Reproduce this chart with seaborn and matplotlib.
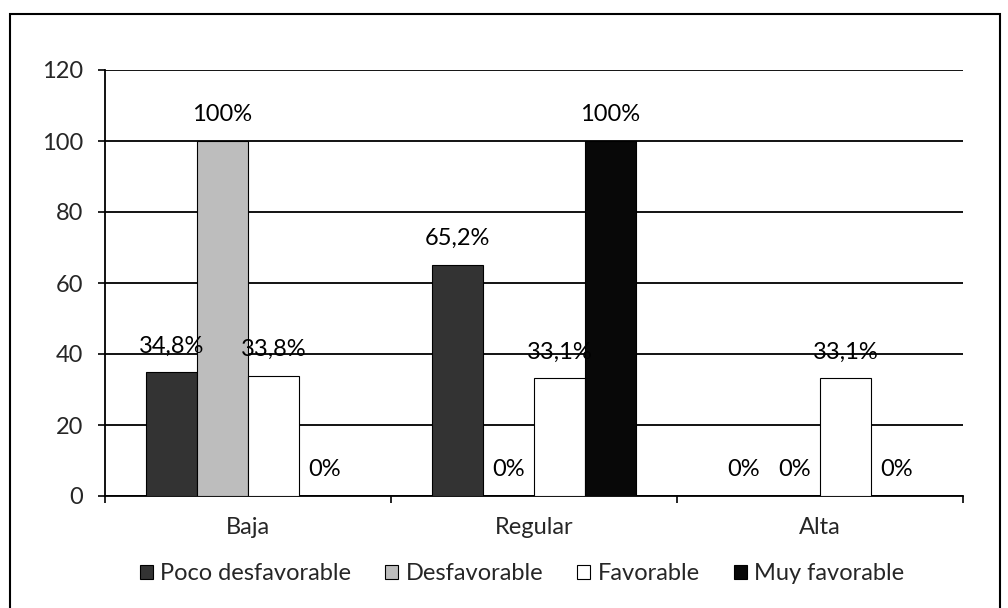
import matplotlib
matplotlib.use("Agg")
import matplotlib.pyplot as plt
import seaborn as sns
import pandas as pd
from matplotlib.patches import Rectangle

categories = ["Baja", "Regular", "Alta"]
series = ["Poco desfavorable", "Desfavorable", "Favorable", "Muy favorable"]
poco_desfavorable = [34.8, 65.2, 0]
desfavorable = [100, 0, 0]
favorable = [33.8, 33.1, 33.1]
muy_favorable = [0, 100, 0]
y_ticks = [0, 20, 40, 60, 80, 100, 120]

values = [poco_desfavorable, desfavorable, favorable, muy_favorable]
rows = []
for s, vals in zip(series, values):
    for c, v in zip(categories, vals):
        rows.append({"Nivel": c, "Serie": s, "Valor": v})
df = pd.DataFrame(rows)

sns.set_style("white")
plt.rcParams["font.family"] = ["Lato", "DejaVu Sans"]
FS = 17

face = {"Poco desfavorable": "#333333", "Desfavorable": "#bdbdbd",
        "Favorable": "#ffffff", "Muy favorable": "#080808"}

fig = plt.figure(figsize=(10.08, 6.08), dpi=100)
ax = fig.add_axes([105/1008, 1-496/608, (963-105)/1008, (496-70)/608])

sns.barplot(data=df, x="Nivel", y="Valor", hue="Serie", order=categories,
            hue_order=series, palette=face, width=0.713, gap=0,
            edgecolor="black", linewidth=0.8, ax=ax, legend=True, zorder=3)

def fmt(v):
    if float(v).is_integer():
        return f"{int(v)}%"
    return f"{v:.1f}".replace(".", ",") + "%"

for cont, vals in zip(ax.containers, values):
    for bar, v in zip(cont, vals):
        x = bar.get_x() + bar.get_width() / 2
        ax.annotate(fmt(v), (x, v), xytext=(0, 19), textcoords="offset points",
                    ha="center", va="center", fontsize=FS, color="black", zorder=5)

ax.set_ylim(0, 120)
ax.set_yticks(y_ticks)
ax.set_xlim(-0.5, 2.5)
ax.set_xticks([-0.5, 0.5, 1.5, 2.5])
ax.set_xticklabels([])
ax.set_xticks([0, 1, 2], minor=True)
ax.set_xticklabels(categories, minor=True, fontsize=FS)
ax.tick_params(axis="x", which="major", direction="out", length=5, width=1.2, color="black", bottom=True)
ax.tick_params(axis="x", which="minor", length=0, pad=15)
ax.tick_params(axis="y", direction="out", length=5, width=1.2, color="black", left=True, labelsize=FS, pad=11)
ax.set_xlabel("")
ax.set_ylabel("")
ax.yaxis.grid(True, color="black", linewidth=1.3, zorder=0)
ax.set_axisbelow(True)
for s in ["top", "right"]:
    ax.spines[s].set_visible(False)
for s in ["left", "bottom"]:
    ax.spines[s].set_color("black")
    ax.spines[s].set_linewidth(1.3)

handles, labels = ax.get_legend_handles_labels()
ax.legend_.remove()
fig.legend(handles, labels, loc="center", bbox_to_anchor=(522/1008, 1-574/608),
           ncol=4, frameon=False, fontsize=FS, handlelength=0.55, handleheight=0.55,
           handletextpad=0.3, columnspacing=1.45)

fig.patches.append(Rectangle((10/1008, -0.1), 990/1008, (1-14/608) + 0.1,
                             transform=fig.transFigure, fill=False,
                             edgecolor="black", linewidth=1.5))

fig.savefig("out.png", dpi=100)
